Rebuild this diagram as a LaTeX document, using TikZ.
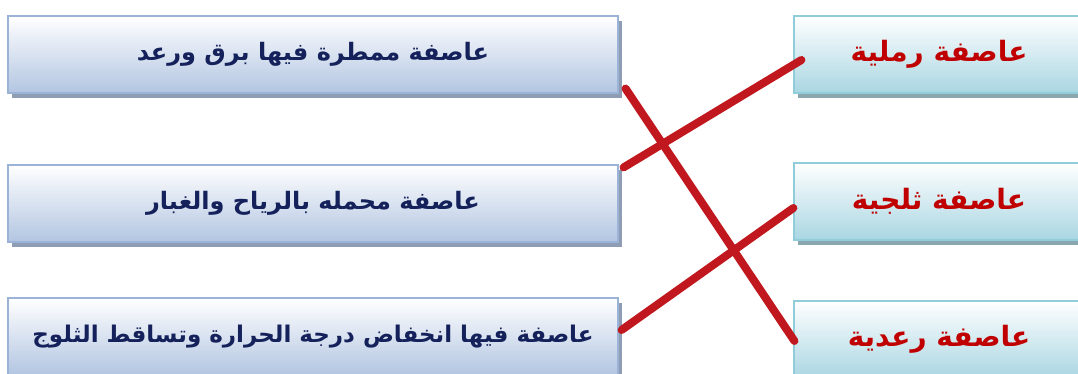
\documentclass[tikz,border=0pt]{standalone}
\usepackage{fontspec}
\usetikzlibrary{shadows}
\TeXXeTstate=1
\newfontfamily\arabicfont[Script=Arabic]{DejaVu Sans}
\definecolor{navytxt}{HTML}{14215A}
\definecolor{redtxt}{HTML}{C00000}
\definecolor{redline}{HTML}{C0181E}
\definecolor{lborder}{HTML}{9AB3D6}
\definecolor{lfill}{HTML}{B2C5E1}
\definecolor{lshadow}{HTML}{8E9DB3}
\definecolor{rborder}{HTML}{90CCDA}
\definecolor{rfill}{HTML}{A9D6E2}
\definecolor{rshadow}{HTML}{8BA6AE}
\tikzset{
  leftbox/.style={draw=lborder, line width=1.2pt, top color=white, bottom color=lfill,
    minimum width=610pt, minimum height=77pt, inner sep=0pt,
    drop shadow={shadow xshift=4pt, shadow yshift=-5pt, fill=lshadow, opacity=1},
    font=\arabicfont\bfseries\fontsize{24}{28}\selectfont, text=navytxt},
  rightbox/.style={draw=rborder, line width=1.2pt, top color=white, bottom color=rfill,
    minimum width=300pt, minimum height=77pt, inner sep=0pt,
    drop shadow={shadow xshift=4pt, shadow yshift=-5pt, fill=rshadow, opacity=1},
    font=\arabicfont\bfseries\fontsize{28}{32}\selectfont, text=redtxt},
  link/.style={draw=redline, line width=8pt, line cap=round}
}
\begin{document}
\begin{tikzpicture}[x=1pt,y=1pt]
\useasboundingbox (0,0) rectangle (1078,374);
\clip (0,0) rectangle (1078,374);
\node[leftbox] (L1) at (313,319.5) {\raisebox{2pt}{\beginR عاصفة ممطرة فيها برق ورعد\endR}};
\node[leftbox] (L2) at (313,170.5) {\raisebox{2pt}{\beginR عاصفة محمله بالرياح والغبار\endR}};
\node[leftbox, font=\arabicfont\bfseries\fontsize{23}{27}\selectfont] (L3) at (313,37.5) {\raisebox{2pt}{\beginR عاصفة فيها انخفاض درجة الحرارة وتساقط الثلوج\endR}};
\node[rightbox] (R1) at (944,319.5) {\hspace*{-10pt}\raisebox{3pt}{\beginR عاصفة رملية\endR}};
\node[rightbox] (R2) at (944,172.5) {\hspace*{-10pt}\raisebox{3pt}{\beginR عاصفة ثلجية\endR}};
\node[rightbox] (R3) at (944,34.5) {\hspace*{-10pt}\raisebox{3pt}{\beginR عاصفة رعدية\endR}};
\draw[link] ([shift={(7pt,5pt)}]L1.south east) -- ([shift={(1pt,-1.5pt)}]R3.west);
\draw[link] ([shift={(5pt,-3pt)}]L2.north east) -- ([shift={(8pt,-5.5pt)}]R1.west);
\draw[link] ([shift={(3pt,6.5pt)}]L3.east) -- ([shift={(0pt,-6.5pt)}]R2.west);
\end{tikzpicture}
\end{document}
